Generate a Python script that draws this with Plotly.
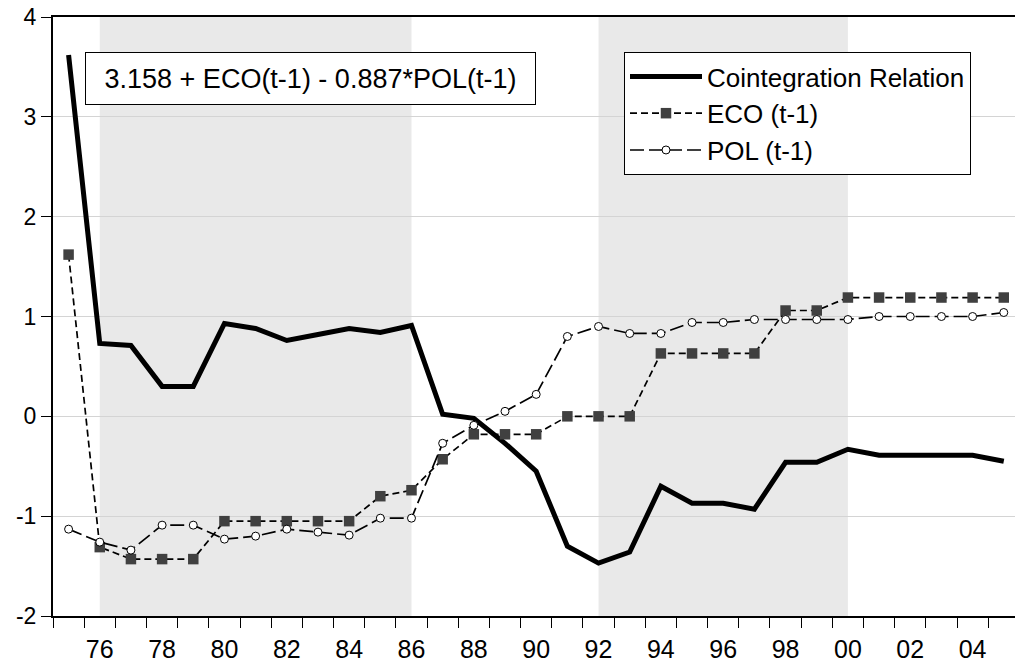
import plotly.graph_objects as go

years = list(range(1975, 2006))

coint = [3.62, 0.73, 0.71, 0.30, 0.30, 0.93, 0.88, 0.76, 0.82, 0.88, 0.84, 0.91,
         0.02, -0.02, -0.27, -0.55, -1.30, -1.47, -1.36, -0.70, -0.87, -0.87, -0.93,
         -0.46, -0.46, -0.33, -0.39, -0.39, -0.39, -0.39, -0.45]

eco = [1.62, -1.31, -1.43, -1.43, -1.43, -1.05, -1.05, -1.05, -1.05, -1.05, -0.80, -0.74,
       -0.43, -0.18, -0.18, -0.18, 0.00, 0.00, 0.00, 0.63, 0.63, 0.63, 0.63,
       1.06, 1.06, 1.19, 1.19, 1.19, 1.19, 1.19, 1.19]

pol = [-1.13, -1.26, -1.34, -1.09, -1.09, -1.23, -1.20, -1.13, -1.16, -1.19, -1.02, -1.02,
       -0.27, -0.09, 0.05, 0.22, 0.80, 0.90, 0.83, 0.83, 0.94, 0.94, 0.97,
       0.97, 0.97, 0.97, 1.00, 1.00, 1.00, 1.00, 1.04]

tick_years = list(range(1976, 2006, 2))
tick_labels = [f"{y % 100:02d}" for y in tick_years]
boundary_ticks = [y + 0.5 for y in range(1974, 2005)]

y_ticks = [-2, -1, 0, 1, 2, 3, 4]
y_labels = ["-2", "-1", "0", "1", "2", "3", "4"]

shaded_periods = [(1976, 1986), (1992, 2000)]

equation_text = "3.158 + ECO(t-1) - 0.887*POL(t-1)"

FONT = "Liberation Sans, Arial, sans-serif"

W = 1015

fig = go.Figure()

fig.add_trace(go.Scatter(
    x=years, y=coint, mode="lines", name="Cointegration Relation",
    line=dict(color="black", width=5)))

fig.add_trace(go.Scatter(
    x=years, y=eco, mode="lines+markers", name="ECO (t-1)",
    line=dict(color="black", width=1.7, dash="7px,4px"),
    marker=dict(symbol="square", size=10.5, color="#404040", line=dict(width=0))))

fig.add_trace(go.Scatter(
    x=years, y=pol, mode="lines+markers", name="POL (t-1)",
    line=dict(color="black", width=1.7, dash="14px,5px"),
    marker=dict(symbol="circle", size=8, color="white", line=dict(color="black", width=1))))

for x0, x1 in shaded_periods:
    fig.add_shape(type="rect", xref="x", yref="paper", x0=x0, x1=x1, y0=0, y1=1,
                  fillcolor="#e9e9e9", line=dict(width=0), layer="below")

pw = W - 53
fig.add_annotation(
    xref="paper", yref="paper", x=(310 - 53) / pw, y=0.897, xanchor="center", yanchor="middle",
    text=equation_text, showarrow=False,
    font=dict(family=FONT, size=27, color="black"),
    bordercolor="black", borderwidth=1, borderpad=2, bgcolor="white",
    width=445, height=47)

fig.update_layout(
    width=W, height=665,
    margin=dict(l=53, r=0, t=17, b=49),
    plot_bgcolor="white", paper_bgcolor="white",
    font=dict(family=FONT, color="black"),
    showlegend=True, hovermode=False,
    legend=dict(
        x=(624 - 53) / pw, y=0.9416, xanchor="left", yanchor="top",
        bgcolor="white", bordercolor="black", borderwidth=1,
        font=dict(family=FONT, size=26, color="black"),
        itemwidth=72, tracegroupgap=0),
    xaxis=dict(
        range=[1974.5, 2005.36], showgrid=False, zeroline=False,
        tickmode="array", tickvals=tick_years, ticktext=tick_labels,
        ticks="outside", ticklen=10, tickcolor="rgba(0,0,0,0)",
        tickfont=dict(size=25, family=FONT, color="black"),
        showline=True, linecolor="black", linewidth=2, mirror=True,
        minor=dict(tickmode="array", tickvals=boundary_ticks, ticks="outside",
                   ticklen=10, tickwidth=1, tickcolor="black", showgrid=False)),
    yaxis=dict(
        range=[-2, 4], tickmode="array", tickvals=y_ticks, ticktext=y_labels,
        ticks="outside", ticklen=10, tickwidth=1, tickcolor="black",
        tickfont=dict(size=23, family=FONT, color="black"),
        showgrid=True, gridcolor="#d4d4d4", gridwidth=1, zeroline=False,
        showline=True, linecolor="black", linewidth=2, mirror=False),
)

fig.write_html(
    "out.html", config={"staticPlot": True, "displayModeBar": False},
    post_script="document.body.style.margin='0';")
